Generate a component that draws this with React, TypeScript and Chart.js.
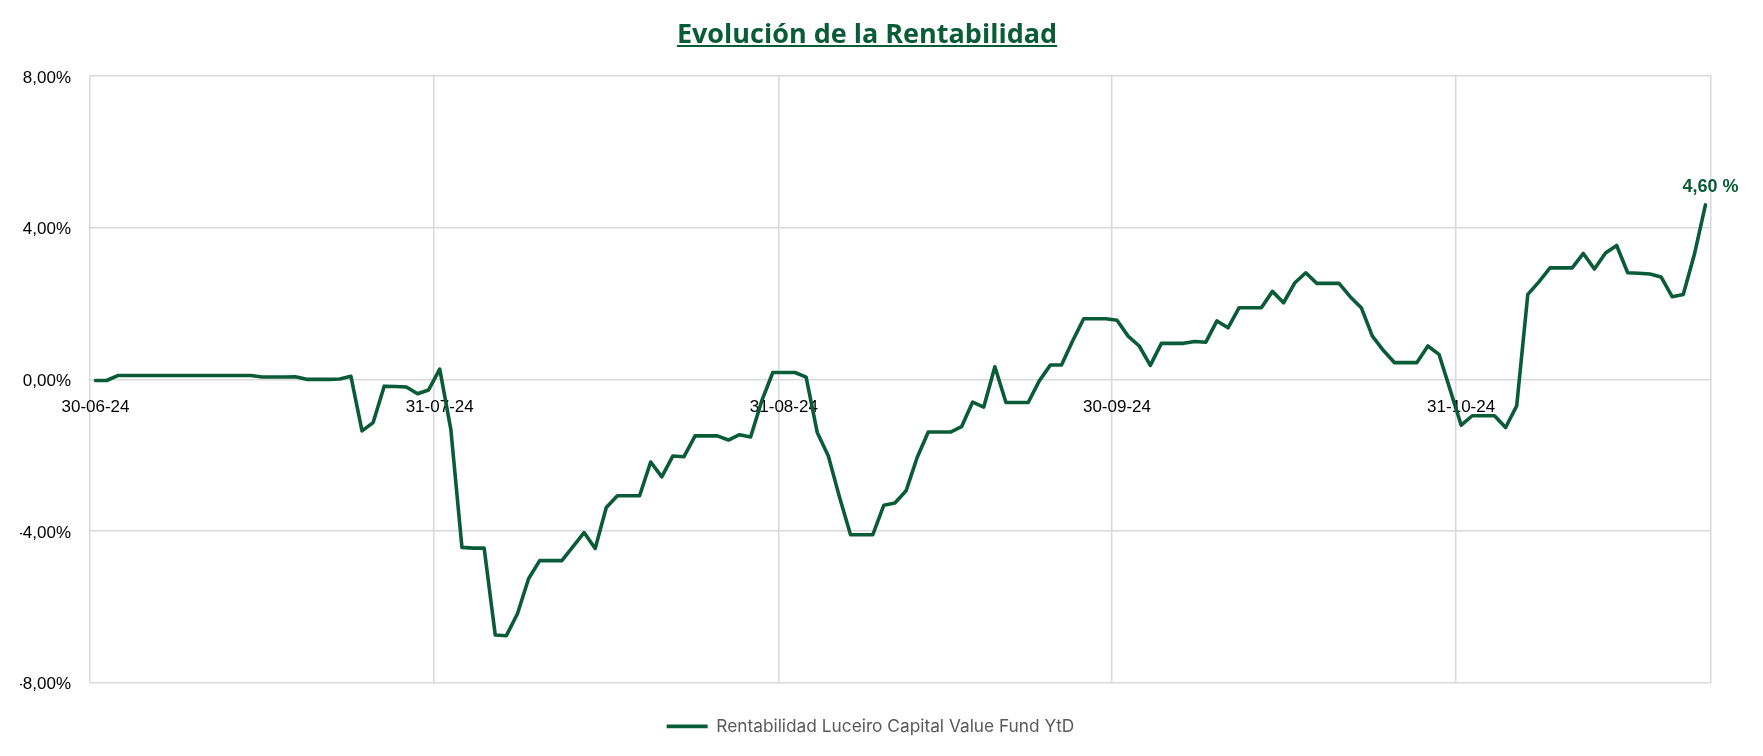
import React, { useEffect, useRef } from 'react';
import { Chart, registerables } from 'chart.js';

Chart.register(...registerables);

// ---- data ----
const chartTitle = 'Evolución de la Rentabilidad';
const seriesName = 'Rentabilidad Luceiro Capital Value Fund YtD';
const startDate = '2024-06-30';
// daily YtD return (%), one value per calendar day from 30-06-24 to 22-11-24
const values: number[] = [
  -0.03, -0.03, 0.10, 0.10, 0.10, 0.10, 0.10, 0.10, 0.10, 0.10,
  0.10, 0.10, 0.10, 0.10, 0.10, 0.06, 0.06, 0.06, 0.07, 0.00,
  0.00, 0.00, 0.01, 0.08, -1.36, -1.14, -0.18, -0.19, -0.20, -0.38,
  -0.28, 0.27, -1.32, -4.43, -4.45, -4.45, -6.74, -6.76, -6.18, -5.26,
  -4.78, -4.78, -4.78, -4.41, -4.04, -4.46, -3.38, -3.07, -3.07, -3.07,
  -2.18, -2.57, -2.02, -2.04, -1.49, -1.49, -1.49, -1.60, -1.46, -1.52,
  -0.57, 0.18, 0.18, 0.18, 0.06, -1.40, -2.02, -3.10, -4.10, -4.10,
  -4.10, -3.32, -3.26, -2.94, -2.06, -1.39, -1.39, -1.39, -1.25, -0.60,
  -0.73, 0.33, -0.61, -0.61, -0.61, -0.04, 0.38, 0.38, 1.01, 1.60,
  1.60, 1.60, 1.56, 1.14, 0.88, 0.37, 0.95, 0.95, 0.95, 1.00,
  0.98, 1.54, 1.36, 1.89, 1.89, 1.89, 2.32, 2.02, 2.54, 2.81,
  2.53, 2.53, 2.53, 2.18, 1.89, 1.14, 0.76, 0.44, 0.44, 0.44,
  0.88, 0.66, -0.27, -1.21, -0.96, -0.96, -0.96, -1.27, -0.70, 2.24,
  2.57, 2.94, 2.94, 2.94, 3.32, 2.91, 3.33, 3.53, 2.81, 2.80,
  2.78, 2.70, 2.18, 2.24, 3.29, 4.60,
];
const xTickDates = ['2024-06-30', '2024-07-31', '2024-08-31', '2024-09-30', '2024-10-31', '2024-11-23'];
const xTickLabels = ['30-06-24', '31-07-24', '31-08-24', '30-09-24', '31-10-24', ''];
const yTickValues = [-8, -4, 0, 4, 8];

// ---- helpers ----
const DAY_MS = 86400000;
const dayIndex = (d: string) => Math.round((Date.parse(d) - Date.parse(startDate)) / DAY_MS);
const fmtPct = (v: number) => v.toFixed(2).replace('.', ',');

const GREEN = '#0a5c38';

const titlePlugin = {
  id: 'underlinedTitle',
  afterDraw(chart: any) {
    const ctx = chart.ctx;
    ctx.save();
    ctx.font = 'bold 27px "Open Sans"';
    ctx.fillStyle = GREEN;
    ctx.textAlign = 'center';
    ctx.textBaseline = 'alphabetic';
    const cx = 867;
    const by = 43;
    ctx.fillText(chartTitle, cx, by);
    const w = ctx.measureText(chartTitle).width;
    ctx.fillRect(cx - w / 2, by + 2, w, 2);
    ctx.restore();
  },
};

const lastLabelPlugin = {
  id: 'lastLabel',
  afterDatasetsDraw(chart: any) {
    const meta = chart.getDatasetMeta(0);
    const pts = meta.data;
    const p = pts[pts.length - 1];
    if (!p) return;
    const ctx = chart.ctx;
    ctx.save();
    ctx.font = 'bold 18px "Liberation Sans"';
    ctx.fillStyle = GREEN;
    ctx.textAlign = 'center';
    ctx.textBaseline = 'alphabetic';
    ctx.fillText(fmtPct(values[values.length - 1]) + ' %', p.x + 5, p.y - 13);
    ctx.restore();
  },
};

const legendShiftPlugin = {
  id: 'legendShift',
  afterLayout(chart: any) {
    const lg = chart.legend;
    if (lg) {
      lg.left += 5;
      lg.right += 5;
    }
  },
};

export default function App() {
  const canvasRef = useRef<HTMLCanvasElement | null>(null);

  useEffect(() => {
    if (!canvasRef.current) return;
    Chart.defaults.font.family = '"Liberation Sans"';
    const chart = new Chart(canvasRef.current, {
      type: 'line',
      data: {
        datasets: [
          {
            label: seriesName,
            data: values.map((v, i) => ({ x: i, y: v })),
            borderColor: GREEN,
            backgroundColor: GREEN,
            borderWidth: 3.6,
            borderJoinStyle: 'round',
            borderCapStyle: 'round',
            pointRadius: 0,
            tension: 0,
          },
        ],
      },
      options: {
        animation: false,
        responsive: false,
        layout: { padding: { left: 20, right: 52, top: 76, bottom: 11 } },
        scales: {
          x: {
            type: 'linear',
            position: { y: 0 } as any,
            min: -0.5,
            max: values.length - 0.5,
            afterBuildTicks: (scale: any) => {
              scale.ticks = xTickDates.map((d) => ({ value: dayIndex(d) - 0.5 }));
            },
            grid: { color: '#d9d9d9', lineWidth: 1.5, drawTicks: false },
            border: { display: false },
            ticks: {
              autoSkip: false,
              maxRotation: 0,
              minRotation: 0,
              padding: 18,
              labelOffset: 5.5,
              color: '#000',
              font: { size: 17 },
              callback: (_v: any, i: number) => xTickLabels[i],
            },
          },
          y: {
            type: 'linear',
            min: -8,
            max: 8,
            afterBuildTicks: (scale: any) => {
              scale.ticks = yTickValues.map((v) => ({ value: v }));
            },
            afterFit: (scale: any) => {
              scale.width = 70;
            },
            grid: { color: '#d9d9d9', lineWidth: 1.5, drawTicks: false },
            border: { display: false },
            ticks: {
              padding: 19,
              labelOffset: 2,
              color: '#000',
              font: { size: 17 },
              callback: (v: any) => fmtPct(Number(v)) + '%',
            },
          },
        },
        plugins: {
          title: { display: false },
          tooltip: { enabled: false },
          legend: {
            position: 'bottom',
            labels: {
              usePointStyle: true,
              pointStyle: 'line',
              pointStyleWidth: 41,
              padding: 35,
              color: '#595959',
              font: { family: 'Inter', size: 17.3 },
            },
          },
        },
      },
      plugins: [titlePlugin, lastLabelPlugin, legendShiftPlugin],
    } as any);
    return () => chart.destroy();
  }, []);

  return (
    <div style={{ position: 'fixed', left: 0, top: 0, width: 1763, height: 756, background: '#fff' }}>
      <canvas ref={canvasRef} width={1763} height={756} style={{ display: 'block' }} />
    </div>
  );
}
